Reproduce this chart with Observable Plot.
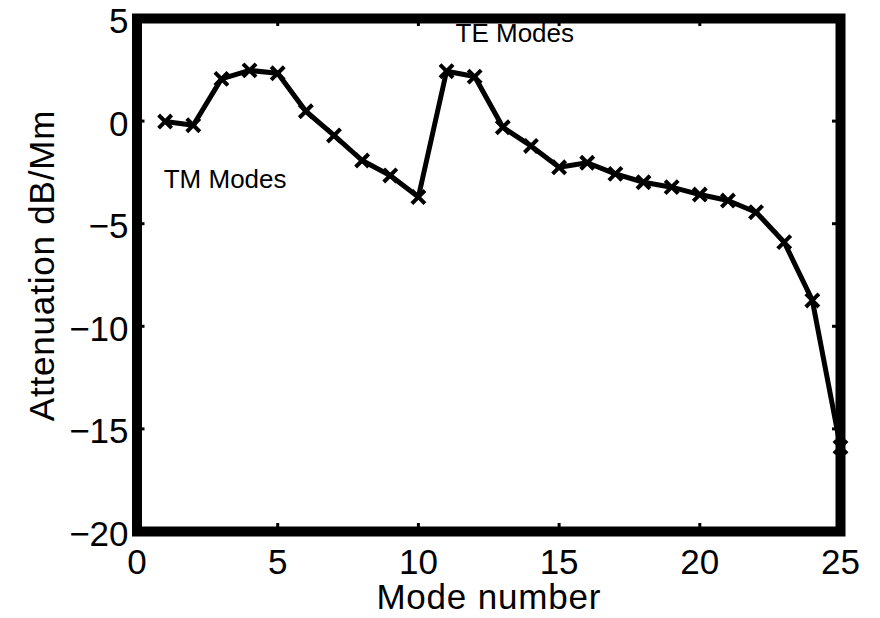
<!DOCTYPE html>
<html>
<head>
<meta charset="utf-8">
<script src="https://cdn.jsdelivr.net/npm/d3@7"></script>
<script src="https://cdn.jsdelivr.net/npm/@observablehq/plot@0.6"></script>
<style>
  html, body { margin: 0; padding: 0; background: #fff; }
  svg { display: block; }
  .axis-title text { letter-spacing: 0.8px; }
</style>
</head>
<body>
<div id="chart"></div>
<script>
// Data
const modeNumber = [1, 2, 3, 4, 5, 6, 7, 8, 9, 10, 11, 12, 13, 14, 15, 16, 17, 18, 19, 20, 21, 22, 23, 24, 25];
const attenuation = [-0.02, -0.2, 2.06, 2.47, 2.33, 0.48, -0.7, -1.92, -2.65, -3.7, 2.43, 2.17, -0.3, -1.21, -2.25, -2.03, -2.57, -2.98, -3.22, -3.58, -3.87, -4.44, -5.9, -8.74, -15.89];
const xTicks = [0, 5, 10, 15, 20, 25];
const yTicks = [5, 0, -5, -10, -15, -20];
const xDomain = [0, 25];
const yDomain = [-20, 5];
const xLabel = "Mode number";
const yLabel = "Attenuation dB/Mm";
const annotations = [
  {x: 11.32, y: 3.85, text: "TE Modes"},
  {x: 0.95, y: -3.24, text: "TM Modes"}
];

const data = modeNumber.map((m, i) => ({mode: m, att: attenuation[i]}));

const W = 880, H = 618;
const mL = 136.5, mR = 40, mT = 18, mB = 87;
const plotW = W - mL - mR, plotH = H - mT - mB;
const tickLen = 8;

const chart = Plot.plot({
  width: W,
  height: H,
  marginLeft: mL,
  marginRight: mR,
  marginTop: mT,
  marginBottom: mB,
  style: {fontFamily: "'Liberation Sans', Arial, Helvetica, sans-serif", fontSize: "35px", color: "#000", background: "#fff"},
  x: {domain: xDomain, ticks: xTicks},
  y: {domain: yDomain, ticks: yTicks},
  marks: [
    // inward ticks
    Plot.ruleX(xTicks, {x: d => d, insetTop: plotH - tickLen, stroke: "#000", strokeWidth: 3}),
    Plot.ruleX(xTicks, {x: d => d, insetBottom: plotH - tickLen, stroke: "#000", strokeWidth: 3}),
    Plot.ruleY(yTicks, {y: d => d, insetRight: plotW - tickLen, stroke: "#000", strokeWidth: 3}),
    Plot.ruleY(yTicks, {y: d => d, insetLeft: plotW - tickLen, stroke: "#000", strokeWidth: 3}),
    Plot.frame({stroke: "#000", strokeWidth: 10}),
    Plot.axisX({ticks: xTicks, tickSize: 0, tickPadding: 18, label: null}),
    Plot.axisY({ticks: yTicks, tickSize: 0, tickPadding: 8.5, dy: 3.3, label: null}),
    Plot.line(data, {x: "mode", y: "att", stroke: "#000", strokeWidth: 5, strokeLinejoin: "miter"}),
    Plot.dot(data, {x: "mode", y: "att", symbol: "times", r: 6, stroke: "#000", strokeWidth: 4}),
    Plot.text(annotations, {x: "x", y: "y", text: "text", textAnchor: "start", lineAnchor: "bottom", fontSize: 26, fill: "#000"}),
    Plot.text([xLabel], {frameAnchor: "bottom", textAnchor: "middle", lineAnchor: "bottom", dy: 77, fontSize: 35, fill: "#000", className: "axis-title"}),
    Plot.text([yLabel], {frameAnchor: "left", textAnchor: "middle", rotate: -90, dx: -94, dy: -9.5, fontSize: 35, fill: "#000", className: "axis-title"})
  ]
});

document.getElementById("chart").appendChild(chart);
</script>
</body>
</html>
